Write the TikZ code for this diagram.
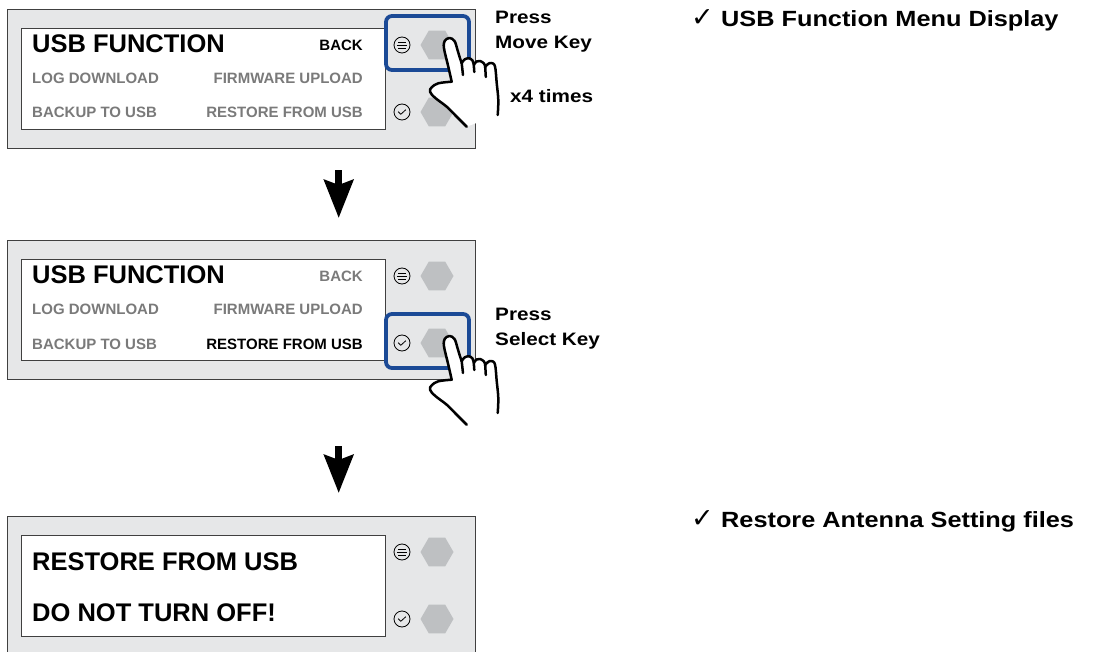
\documentclass[tikz,border=0pt]{standalone}
\usepackage{fontspec}
\setmainfont{Liberation Sans}
\newfontfamily\widesans[FakeStretch=1.15]{Liberation Sans}
\newfontfamily\symfont{DejaVu Sans}
\usepackage{tikz}
\usetikzlibrary{arrows.meta, positioning, shapes.geometric}

\definecolor{panelgray}{RGB}{230,231,232}
\definecolor{keygray}{RGB}{190,192,194}
\definecolor{framegray}{RGB}{64,64,64}
\definecolor{keyblue}{RGB}{27,74,150}

\begin{document}
\begin{tikzpicture}[x=1pt, y=-1pt,
                    panel/.style={draw=framegray, line width=1.4pt, fill=panelgray, minimum width=468, minimum height=139, anchor=north west, inner sep=0pt},
                    screen/.style={draw=framegray, line width=1.2pt, fill=white, minimum width=364, minimum height=101, anchor=north west, inner sep=0pt},
                    keycap/.style={regular polygon, regular polygon sides=6, fill=keygray, minimum size=33, inner sep=0pt},
                    keyicon/.style={circle, draw, line width=0.8pt, minimum size=16, inner sep=0pt},
                    keyframe/.style={draw=keyblue, line width=3.8pt, rounded corners=6pt},
                    title/.style={font=\fontsize{25.5}{30}\selectfont\bfseries, inner sep=0pt, anchor=base west},
                    entry/.style={font=\fontsize{15}{18}\selectfont\bfseries, inner sep=0pt},
                    hint/.style={font=\widesans\fontsize{18}{22}\selectfont\bfseries, inner sep=0pt, anchor=base west},
                    note/.style={font=\widesans\fontsize{22}{26}\selectfont\bfseries, inner sep=0pt, anchor=base west},
                    tick/.style={font=\symfont\fontsize{27}{30}\selectfont, inner sep=0pt, anchor=base west},
                    flow/.style={line width=7pt, -{Stealth[length=38pt, width=29pt, inset=5pt]}},
                    hand/.pic={
                        \filldraw[fill=white, line width=2.5pt, line join=round, line cap=round]
                            plot[smooth, tension=0.6] coordinates {(18.7,88.7) (15.3,85.3) (7,77) (-1.3,68.7) (-13,59.7) (-18,53.7) (-16.3,49.3) (-9.7,45.3) (3.7,43.7)}
                            -- plot[smooth, tension=0.6] coordinates {(3.7,43.7) (0.3,28.7) (-4,10.3) (-3.3,3) (1.5,0) (6.5,3) (9.5,12) (12,20.3) (13.7,25.3)}
                            -- plot[smooth, tension=0.6] coordinates {(13.7,25.3) (16.5,21.5) (21,20.3) (24.5,22.5) (25.8,27)}
                            -- plot[smooth, tension=0.6] coordinates {(25.8,27) (28.5,23.5) (32,23) (36,25.5) (37.2,29)}
                            -- plot[smooth, tension=0.6] coordinates {(37.2,29) (40,26) (43.5,25) (47,28.5) (48.7,45) (50.3,62) (49.7,77)};
                        \draw[line width=2.5pt, line cap=round] (13.7,25.3) -- (15,37) (25.8,27) -- (26.3,34) (37.2,29) -- (37.8,39);
                    }]
    \useasboundingbox (0,0) rectangle (1095,652);
    \foreach \p/\t in {1/9, 2/240, 3/516}{
        \node[panel] (panel\p) at (7,\t) {};
        \node[screen] (screen\p) at (21,\t+19) {};
        \node[keycap] (move\p) at (437,\t+36) {};
        \node[keycap] (select\p) at (437,\t+103) {};
        \node[keyicon] (menuicon\p) at (402,\t+36) {};
        \node[keyicon] (okicon\p) at (402,\t+103) {};
        \draw[line width=0.8pt, shift={(menuicon\p)}] (-4,-3) -- (4,-3) (-5.2,0) -- (5.2,0) (-4,3) -- (4,3);
        \draw[line width=0.8pt, line join=round, shift={(okicon\p)}] (-3.8,-0.3) -- (-1.2,2.3) -- (3.8,-2.3);
    }
    \foreach \p/\t/\backcol/\restcol in {1/0/black/black!52, 2/231/black!52/black}{
        \node[title] (title\p) at (32,53+\t) {USB FUNCTION};
        \node[entry, anchor=base east, text=\backcol] (back\p) at (363,51+\t) {BACK};
        \node[entry, anchor=base west, text=black!52] (log\p) at (32,84+\t) {LOG DOWNLOAD};
        \node[entry, anchor=base east, text=black!52] (firmware\p) at (363,84+\t) {FIRMWARE UPLOAD};
        \node[entry, anchor=base west, text=black!52] (backup\p) at (32,118+\t) {BACKUP TO USB};
        \node[entry, anchor=base east, text=\restcol] (restore\p) at (363,118+\t) {RESTORE FROM USB};
    }
    \node[title] (title3) at (32,570) {RESTORE FROM USB};
    \node[title] (warning3) at (32,621.5) {DO NOT TURN OFF!};

    \draw[keyframe] ([shift={(-51,-29)}]move1.center) rectangle ([shift={(32,25)}]move1.center);
    \draw[keyframe] ([shift={(-51,-29)}]select2.center) rectangle ([shift={(32,25)}]select2.center);
    \pic at ([shift={(11,-7)}]move1.center) {hand};
    \pic at ([shift={(11,-7)}]select2.center) {hand};

    \draw[flow, shorten <=21pt, shorten >=22pt] ([xshift=97pt]panel1.south) -- ([xshift=97pt]panel2.north);
    \draw[flow, shorten <=66pt, shorten >=23pt] ([xshift=97pt]panel2.south) -- ([xshift=97pt]panel3.north);

    \node[hint] (press1) at (495,23.5) {Press};
    \node[hint] (movekey) at (495,48.5) {Move Key};
    \node[hint] (times) at (510,103) {x4 times};
    \node[hint] (press2) at (495,320) {Press};
    \node[hint] (selectkey) at (495,345) {Select Key};

    \node[tick] (tick1) at (691,27) {✓};
    \node[note] (menunote) at (721,27) {USB Function Menu Display};
    \node[tick] (tick2) at (691,527) {✓};
    \node[note] (restorenote) at (721,527) {Restore Antenna Setting files};
\end{tikzpicture}
\end{document}
